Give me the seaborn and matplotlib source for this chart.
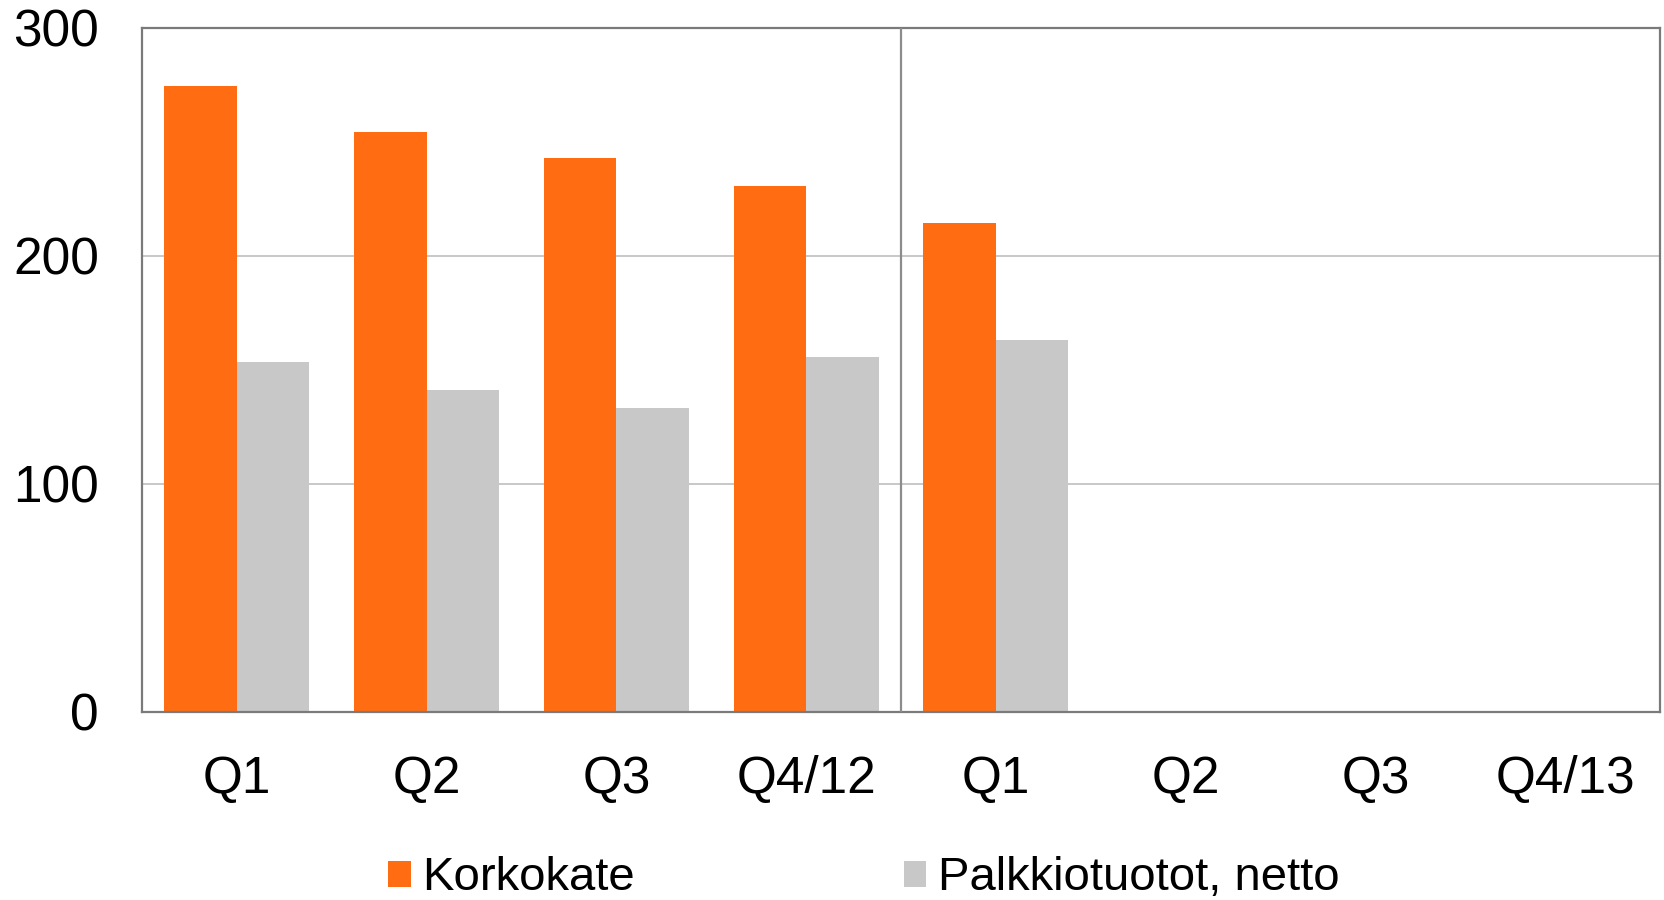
import pandas as pd
import seaborn as sns
import matplotlib.pyplot as plt

periods = ["Q1/12", "Q2/12", "Q3/12", "Q4/12", "Q1/13", "Q2/13", "Q3/13", "Q4/13"]
tick_labels = ["Q1", "Q2", "Q3", "Q4/12", "Q1", "Q2", "Q3", "Q4/13"]
korkokate = [274.5, 254.5, 243, 230.5, 214.5, None, None, None]
palkkio = [153.5, 141, 133.5, 155.5, 163, None, None, None]
series = ["Korkokate", "Palkkiotuotot, netto"]
colors = {"Korkokate": "#FF6C12", "Palkkiotuotot, netto": "#C8C8C8"}

df = pd.DataFrame({
    "period": periods * 2,
    "value": korkokate + palkkio,
    "series": [series[0]] * len(periods) + [series[1]] * len(periods),
})

sns.set_style("white")
plt.rcParams['font.family'] = ['Liberation Sans', 'DejaVu Sans']
plt.rcParams['text.color'] = 'black'
plt.rcParams['xtick.color'] = 'black'
plt.rcParams['ytick.color'] = 'black'

fig = plt.figure(figsize=(16.65, 9), dpi=100)
ax = fig.add_axes([0.0853, 0.209, 0.9117, 0.76])

sns.barplot(data=df, x="period", y="value", hue="series", order=periods,
            hue_order=series, palette=colors, saturation=1, width=0.765,
            gap=0, linewidth=0, errorbar=None, ax=ax)

ax.set_ylim(0, 300)
ax.set_yticks([0, 100, 200, 300])
ax.set_xlim(-0.5, 7.5)
ax.set_xticks(range(len(periods)))
ax.set_xticklabels(tick_labels)
ax.set_xlabel("")
ax.set_ylabel("")
ax.tick_params(axis="both", length=0, labelsize=37, labelcolor="black")
ax.tick_params(axis="x", pad=31)
ax.tick_params(axis="y", pad=31)

ax.yaxis.grid(True, color="#C8C8C8", linewidth=1.4)
ax.set_axisbelow(True)
ax.axvline(3.5, color="#8C8C8C", linewidth=1.6, zorder=3)
for s in ax.spines.values():
    s.set_color("#7A7A7A")
    s.set_linewidth(1.6)

handles, labels = ax.get_legend_handles_labels()
ax.get_legend().remove()
fig.legend(handles, labels, loc="center", bbox_to_anchor=(0.519, 0.024),
           ncol=2, frameon=False, fontsize=34, handlelength=0.47,
           handleheight=0.47, handletextpad=0.25, columnspacing=5.7,
           labelcolor="black")

fig.savefig("out.png", dpi=100)
